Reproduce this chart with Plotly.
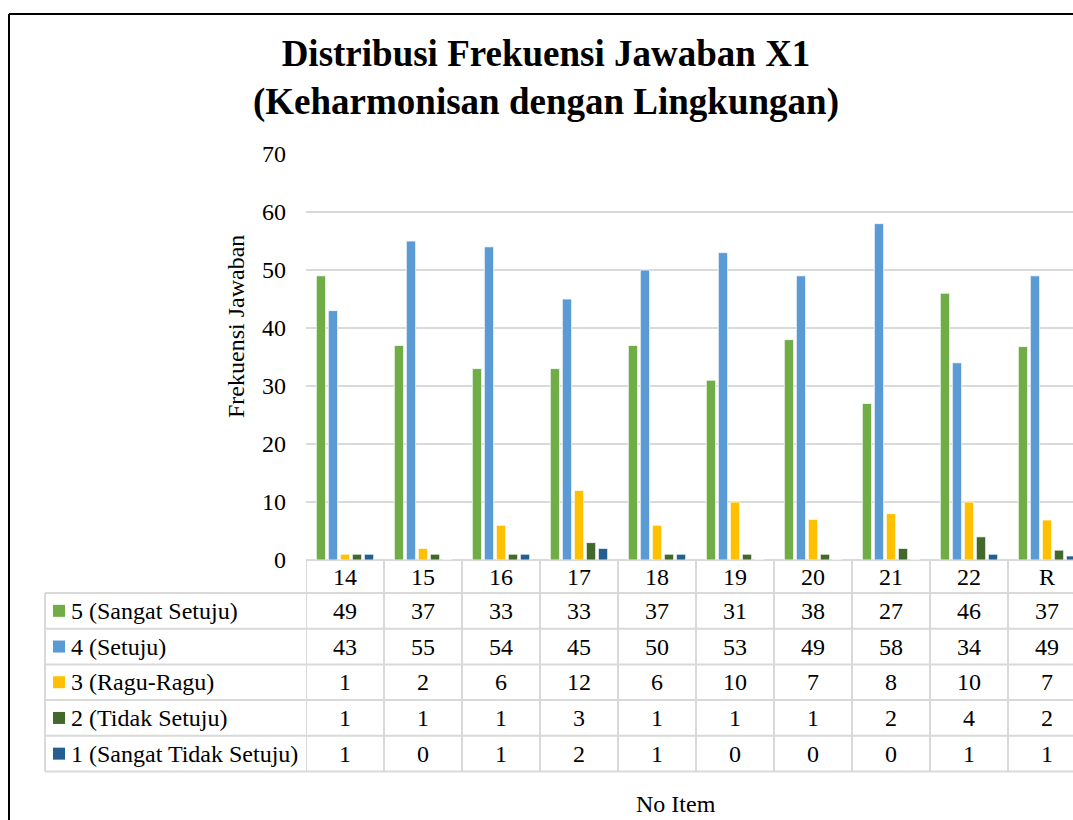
import plotly.graph_objects as go

# item numbers (R = rata-rata)
items = ["14", "15", "16", "17", "18", "19", "20", "21", "22", "R"]

sangat_setuju = [49, 37, 33, 33, 37, 31, 38, 27, 46, 36.8]
setuju = [43, 55, 54, 45, 50, 53, 49, 58, 34, 49]
ragu_ragu = [1, 2, 6, 12, 6, 10, 7, 8, 10, 6.9]
tidak_setuju = [1, 1, 1, 3, 1, 1, 1, 2, 4, 1.7]
sangat_tidak_setuju = [1, 0, 1, 2, 1, 0, 0, 0, 1, 0.7]

series_names = ["5 (Sangat Setuju)", "4 (Setuju)", "3 (Ragu-Ragu)",
                "2 (Tidak Setuju)", "1 (Sangat Tidak Setuju)"]
series_values = [sangat_setuju, setuju, ragu_ragu, tidak_setuju, sangat_tidak_setuju]
colors = ["#70AD47", "#5B9BD5", "#FFC000", "#43682B", "#255E91"]

FONT = "Liberation Serif, Times New Roman, serif"
W, H = 1073, 820
L, T = 306, 154
B = H - 560
PW, PH = W - L, H - T - B


# screen pixel -> paper coords
def px(xp):
    return (xp - L) / PW


def py(yp):
    return (H - B - yp) / PH


fig = go.Figure()
for name, vals, c in zip(series_names, series_values, colors):
    fig.add_trace(go.Bar(name=name, x=items, y=vals, marker_color=c,
                         marker_line=dict(color="white", width=0.8)))

shapes = []
annotations = []
grid = "#D9D9D9"
tf = dict(size=24, color="black", family=FONT)

# data table
row_edges = [560, 593, 628.7, 664.4, 700.1, 735.8, 771.5]
for k in range(len(items) + 1):
    shapes.append(dict(type="line", xref="x", yref="paper", x0=k - 0.5, x1=k - 0.5,
                       y0=py(row_edges[0]), y1=py(row_edges[-1]),
                       line=dict(color=grid, width=2)))
shapes.append(dict(type="line", xref="paper", yref="paper", x0=px(45), x1=px(45),
                   y0=py(row_edges[1]), y1=py(row_edges[-1]), line=dict(color=grid, width=2)))
for e in row_edges[1:]:
    shapes.append(dict(type="line", xref="paper", yref="paper", x0=px(45), x1=1,
                       y0=py(e), y1=py(e), line=dict(color=grid, width=2)))

hdr_y = py((row_edges[0] + row_edges[1]) / 2)
for i, it in enumerate(items):
    annotations.append(dict(x=i, y=hdr_y, xref="x", yref="paper", text=it, showarrow=False,
                            xanchor="center", yanchor="middle", font=tf))

for r, (name, vals, c) in enumerate(zip(series_names, series_values, colors)):
    yc = py((row_edges[r + 1] + row_edges[r + 2]) / 2)
    shapes.append(dict(type="rect", xref="paper", yref="paper", x0=px(53), x1=px(65),
                       y0=yc - 6 / PH, y1=yc + 6 / PH, fillcolor=c, line=dict(width=0)))
    annotations.append(dict(x=px(69), y=yc, xref="paper", yref="paper", text=name,
                            showarrow=False, xanchor="left", yanchor="middle", font=tf))
    for i, v in enumerate(vals):
        annotations.append(dict(x=i, y=yc, xref="x", yref="paper", text=f"{v:.0f}",
                                showarrow=False, xanchor="center", yanchor="middle", font=tf))

# frame border
shapes.append(dict(type="line", xref="paper", yref="paper", x0=px(9), x1=px(9),
                   y0=py(14), y1=py(H), line=dict(color="black", width=2)))
shapes.append(dict(type="line", xref="paper", yref="paper", x0=px(9), x1=1,
                   y0=py(14), y1=py(14), line=dict(color="black", width=2)))

annotations.append(dict(x=px(546), y=py(78), xref="paper", yref="paper",
                        text="<b>Distribusi Frekuensi Jawaban X1<br>(Keharmonisan dengan Lingkungan)</b>",
                        showarrow=False, xanchor="center", yanchor="middle",
                        font=dict(size=37, color="black", family=FONT)))
annotations.append(dict(x=px(236), y=py(327), xref="paper", yref="paper", text="Frekuensi Jawaban",
                        textangle=-90, showarrow=False, xanchor="center", yanchor="middle", font=tf))
annotations.append(dict(x=px(676), y=py(804), xref="paper", yref="paper", text="No Item",
                        showarrow=False, xanchor="center", yanchor="middle", font=tf))

fig.update_layout(
    width=W, height=H,
    margin=dict(l=L, r=0, t=T, b=B, pad=0),
    paper_bgcolor="white", plot_bgcolor="white",
    barmode="group", bargap=0.23, bargroupgap=0.22,
    showlegend=False,
    font=dict(family=FONT, color="black"),
    shapes=shapes, annotations=annotations,
)
fig.update_xaxes(type="category", range=[-0.5, -0.5 + PW / 78], showticklabels=False,
                 showgrid=False, zeroline=False, showline=False)
fig.update_yaxes(range=[0, 70], dtick=10, showgrid=True, gridcolor=grid, gridwidth=1.5,
                 zeroline=True, zerolinecolor=grid, zerolinewidth=1.5,
                 tickfont=tf, ticklabelstandoff=19)

# drop the default page margin so the figure fills the window exactly
fig.write_html("out.html", config={"displayModeBar": False},
               post_script="document.body.style.margin='0';document.body.style.overflow='hidden';")
